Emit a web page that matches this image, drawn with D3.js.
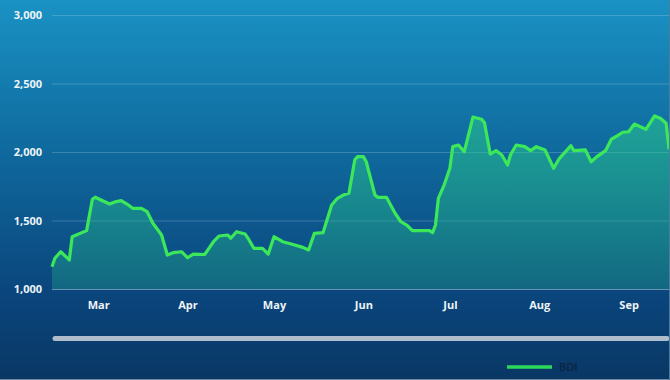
<!DOCTYPE html>
<html>
<head>
<meta charset="utf-8">
<script src="https://cdn.jsdelivr.net/npm/d3@7"></script>
<style>
  body { margin: 0; background: #093864; }
  svg { display: block; }
  .axis text { font-family: "Open Sans", sans-serif; font-size: 11px; font-weight: 700; fill: #eef4f8; }
</style>
</head>
<body>
<div class="chart"></div>
<script>
// BDI index (dates as yyyy-mm-dd)
var dates = [
    "2018-02-13","2018-02-14","2018-02-16","2018-02-19","2018-02-20","2018-02-25","2018-02-27","2018-02-28",
    "2018-03-02","2018-03-05","2018-03-07","2018-03-09","2018-03-11","2018-03-13","2018-03-16","2018-03-18",
    "2018-03-20","2018-03-23","2018-03-25","2018-03-27","2018-03-30","2018-04-01","2018-04-03","2018-04-07",
    "2018-04-10","2018-04-12","2018-04-15","2018-04-16","2018-04-18","2018-04-21","2018-04-22","2018-04-24",
    "2018-04-27","2018-04-29","2018-05-01","2018-05-04","2018-05-07","2018-05-11","2018-05-13","2018-05-15",
    "2018-05-18","2018-05-21","2018-05-23","2018-05-25","2018-05-27","2018-05-29","2018-05-30","2018-06-01",
    "2018-06-02","2018-06-05","2018-06-06","2018-06-09","2018-06-12","2018-06-14","2018-06-16","2018-06-18",
    "2018-06-24","2018-06-25","2018-06-26","2018-06-27","2018-06-29","2018-07-01","2018-07-02","2018-07-04",
    "2018-07-06","2018-07-09","2018-07-12","2018-07-13","2018-07-15","2018-07-17","2018-07-19","2018-07-21",
    "2018-07-22","2018-07-24","2018-07-27","2018-07-29","2018-07-31","2018-08-03","2018-08-06","2018-08-08",
    "2018-08-12","2018-08-13","2018-08-17","2018-08-19","2018-08-21","2018-08-24","2018-08-26","2018-08-28",
    "2018-08-30","2018-09-01","2018-09-03","2018-09-05","2018-09-07","2018-09-10","2018-09-12","2018-09-14",
    "2018-09-15"
];
var bdi = [
    1163, 1224, 1272, 1212, 1382, 1426, 1655, 1670,
    1650, 1620, 1637, 1645, 1620, 1589, 1589, 1564,
    1480, 1394, 1248, 1265, 1272, 1228, 1255, 1252,
    1345, 1387, 1394, 1370, 1418, 1401, 1370, 1297,
    1297, 1255, 1382, 1345, 1328, 1304, 1285, 1406,
    1411, 1613, 1662, 1686, 1699, 1942, 1966, 1966,
    1929, 1686, 1669, 1669, 1553, 1491, 1467, 1426,
    1426, 1411, 1467, 1662, 1759, 1881, 2039, 2051,
    2002, 2255, 2239, 2214, 1985, 2010, 1978, 1905,
    1978, 2051, 2039, 2010, 2039, 2015, 1881, 1954,
    2046, 2010, 2015, 1929, 1966, 2010, 2093, 2117,
    2144, 2148, 2204, 2185, 2166, 2263, 2246, 2210,
    2020
];
var yTicks = [1000, 1500, 2000, 2500, 3000];
var seriesName = "BDI";

var width = 670, height = 380;
var margin = { top: 15, right: 1, bottom: 91, left: 52 };

var parseDate = d3.timeParse("%Y-%m-%d");
var data = dates.map(function(d, i) { return { date: parseDate(d), value: bdi[i] }; });

var svg = d3.select(".chart").append("svg")
    .attr("width", width)
    .attr("height", height);

// background + gradients
var defs = svg.append("defs");
var bg = defs.append("linearGradient")
    .attr("id", "bg").attr("x1", 0).attr("y1", 0).attr("x2", 0).attr("y2", 1);
bg.append("stop").attr("offset", "0%").attr("stop-color", "#1a92c4");
bg.append("stop").attr("offset", "40%").attr("stop-color", "#0f699d");
bg.append("stop").attr("offset", "78%").attr("stop-color", "#0a457c");
bg.append("stop").attr("offset", "100%").attr("stop-color", "#093764");

var areaGrad = defs.append("linearGradient")
    .attr("id", "areaGrad").attr("x1", 0).attr("y1", 0).attr("x2", 0).attr("y2", 1);
areaGrad.append("stop").attr("offset", "0%").attr("stop-color", "#2ad08a").attr("stop-opacity", 0.52);
areaGrad.append("stop").attr("offset", "100%").attr("stop-color", "#2ad08a").attr("stop-opacity", 0.24);

svg.append("rect")
    .attr("width", width).attr("height", height)
    .attr("fill", "url(#bg)");

var x = d3.scaleTime()
    .domain([parseDate("2018-02-13"), parseDate("2018-09-15")])
    .range([margin.left, 669]);

var y = d3.scaleLinear()
    .domain([1000, 3000])
    .range([289, margin.top]);

// grid lines
svg.append("g")
    .selectAll("line")
    .data(yTicks)
    .enter().append("line")
    .attr("x1", margin.left).attr("x2", width)
    .attr("y1", function(d) { return y(d) + 0.5; })
    .attr("y2", function(d) { return y(d) + 0.5; })
    .attr("stroke", function(d) { return d === 1000 ? "rgba(220,235,245,0.45)" : "rgba(220,235,245,0.22)"; })
    .attr("stroke-width", 1.2);

// y axis labels
var yAxis = d3.axisLeft(y)
    .tickValues(yTicks)
    .tickFormat(d3.format(","))
    .tickSize(0)
    .tickPadding(0);

svg.append("g")
    .attr("class", "y-axis axis")
    .attr("transform", "translate(42,0)")
    .call(yAxis)
    .call(function(g) { g.select(".domain").remove(); });

// x axis labels
var xAxis = d3.axisBottom(x)
    .ticks(d3.timeMonth.every(1))
    .tickFormat(d3.timeFormat("%b"))
    .tickSize(0)
    .tickPadding(12);

svg.append("g")
    .attr("class", "x-axis axis")
    .attr("transform", "translate(0,289)")
    .call(xAxis)
    .call(function(g) { g.select(".domain").remove(); });

// area + line
var area = d3.area()
    .x(function(d) { return x(d.date); })
    .y0(y(1000))
    .y1(function(d) { return y(d.value); });

var line = d3.line()
    .x(function(d) { return x(d.date); })
    .y(function(d) { return y(d.value); });

svg.append("path")
    .datum(data)
    .attr("d", area)
    .attr("fill", "url(#areaGrad)");

svg.append("path")
    .datum(data)
    .attr("d", line)
    .attr("fill", "none")
    .attr("stroke", "#3ce85a")
    .attr("stroke-width", 3.2)
    .attr("stroke-linejoin", "round");

// scrollbar
svg.append("line")
    .attr("x1", 55).attr("x2", 667)
    .attr("y1", 338.5).attr("y2", 338.5)
    .attr("stroke", "#aebccb")
    .attr("stroke-width", 5)
    .attr("stroke-linecap", "round");

// legend
var legend = svg.append("g").attr("transform", "translate(507,367)");
legend.append("line")
    .attr("x1", 0).attr("x2", 45)
    .attr("stroke", "#2bd85a")
    .attr("stroke-width", 3.5);
legend.append("text")
    .attr("x", 52).attr("y", 4)
    .attr("font-family", "Open Sans, sans-serif")
    .attr("font-size", 11)
    .attr("font-weight", 600)
    .attr("fill", "#0b2440")
    .text(seriesName);

// faint frame on bottom and right edges
svg.append("line")
    .attr("x1", 0).attr("x2", width).attr("y1", 379.5).attr("y2", 379.5)
    .attr("stroke", "#6f8aa6").attr("stroke-width", 1);
svg.append("line")
    .attr("x1", 669.5).attr("x2", 669.5).attr("y1", 0).attr("y2", height)
    .attr("stroke", "#4f7aa0").attr("stroke-width", 1);
</script>
</body>
</html>
